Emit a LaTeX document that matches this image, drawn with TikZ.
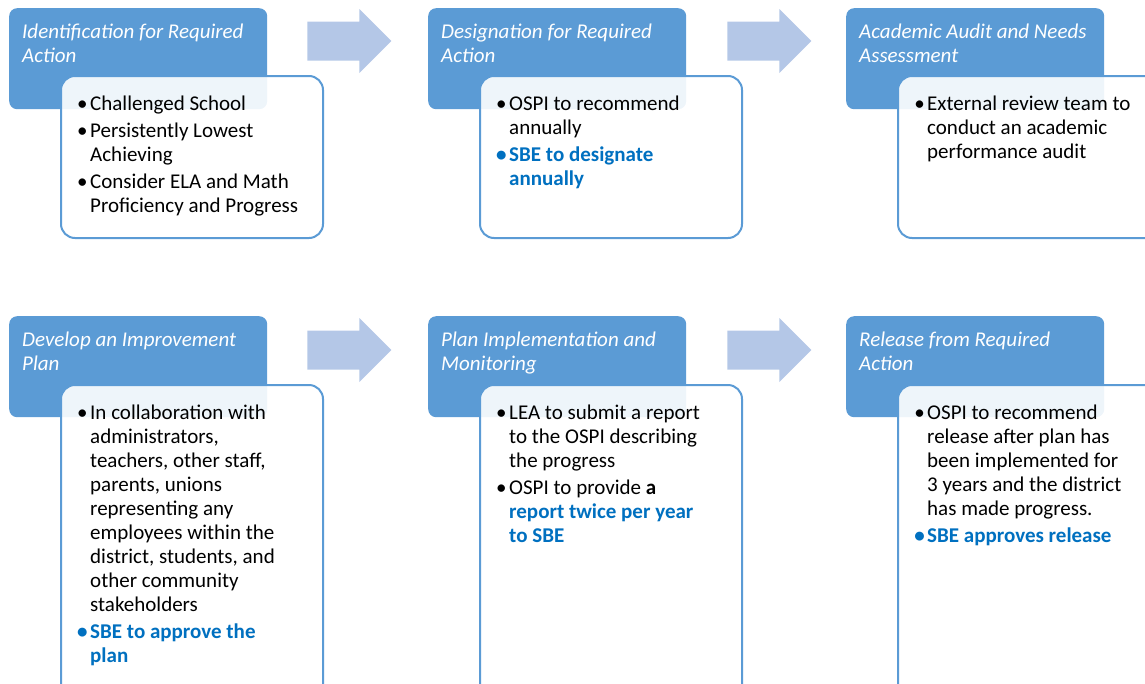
\documentclass[tikz,border=0pt]{standalone}
\usepackage{fontspec}
\setmainfont{Carlito}
\usetikzlibrary{calc}
\definecolor{hdblue}{RGB}{91,155,213}
\definecolor{arrblue}{RGB}{180,199,231}
\definecolor{sbeblue}{RGB}{0,112,192}
\newcommand{\bul}{\makebox[0pt][r]{\textbullet\hspace{2.5pt}}}
\newcommand{\sbe}[1]{{\color{sbeblue}\bfseries #1}}
\newcommand{\flowarrow}[1]{\fill[flow] (#1) ++(0,-19.5) -- ++(52,0) -- ++(0,-12.5) -- ++(32,32) -- ++(-32,32) -- ++(0,-12.5) -- ++(-52,0) -- cycle;}
\begin{document}
\begin{tikzpicture}[x=1pt, y=-1pt,
  head/.style = {fill=hdblue, rounded corners=8pt, minimum width=258pt, minimum height=101pt, anchor=north west, inner sep=0pt},
  headtext/.style = {anchor=north west, inner sep=0pt, align=left, text=white, font=\fontsize{21}{24}\selectfont\itshape},
  body/.style = {draw=hdblue, line width=2pt, fill=white, fill opacity=0.9, rounded corners=14pt, minimum width=262pt, minimum height=162pt, anchor=north west, inner sep=0pt},
  bodytext/.style = {anchor=north west, inner sep=0pt, align=left, font=\fontsize{21}{24}\selectfont},
  flow/.style = {fill=arrblue}]
  \useasboundingbox (0,0) rectangle (1145,683);
  % Disegna i riquadri
  \node[head] (h1) at (9,8) {};
  \node[head] (h2) at (428,8) {};
  \node[head] (h3) at (846,8) {};
  \node[head] (h4) at (9,316) {};
  \node[head] (h5) at (428,316) {};
  \node[head] (h6) at (846,316) {};
  \node[headtext] (t1) at (22,24) {Identification for Required\\Action};
  \node[headtext] (t2) at (441,24) {Designation for Required\\Action};
  \node[headtext] (t3) at (859,24) {Academic Audit and Needs\\Assessment};
  \node[headtext] (t4) at (22,332) {Develop an Improvement\\Plan};
  \node[headtext] (t5) at (441,332) {Plan Implementation and\\Monitoring};
  \node[headtext] (t6) at (859,332) {Release from Required\\Action};

  \node[body] (b1) at (60,75) {};
  \node[body] (b2) at (479,75) {};
  \node[body] (b3) at (897,75) {};
  \node[body, minimum height=330pt] (b4) at (60,384) {};
  \node[body, minimum height=330pt] (b5) at (479,384) {};
  \node[body, minimum height=330pt] (b6) at (897,384) {};

  \node[bodytext] (l1) at (90,96) {\bul Challenged School\\[3pt]
    \bul Persistently Lowest\\ Achieving\\[3pt]
    \bul Consider ELA and Math\\ Proficiency and Progress};
  \node[bodytext] (l2) at (509,96) {\bul OSPI to recommend\\ annually\\[3pt]
    \sbe{\bul SBE to designate}\\ \sbe{annually}};
  \node[bodytext] (l3) at (927,96) {\bul External review team to\\ conduct an academic\\ performance audit};
  \node[bodytext] (l4) at (90,405) {\bul In collaboration with\\ administrators,\\ teachers, other staff,\\ parents, unions\\
    representing any\\ employees within the\\ district, students, and\\ other community\\ stakeholders\\[3pt]
    \sbe{\bul SBE to approve the}\\ \sbe{plan}};
  \node[bodytext] (l5) at (509,405) {\bul LEA to submit a report\\ to the OSPI describing\\ the progress\\[3pt]
    \bul OSPI to provide \textbf{a}\\ \sbe{report twice per year}\\ \sbe{to SBE}};
  \node[bodytext] (l6) at (927,405) {\bul OSPI to recommend\\ release after plan has\\ been implemented for\\
    3 years and the district\\ has made progress.\\[3pt]
    \sbe{\bul SBE approves release}};

  \flowarrow{$(h1.north east)+(40,33)$}
  \flowarrow{$(h2.north east)+(41,33)$}
  \flowarrow{$(h4.north east)+(40,34)$}
  \flowarrow{$(h5.north east)+(41,34)$}
\end{tikzpicture}
\end{document}
